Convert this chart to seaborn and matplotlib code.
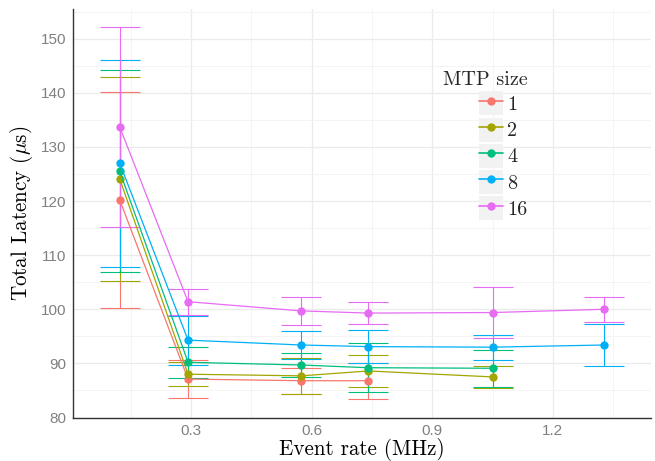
import numpy as np
import pandas as pd
import matplotlib
matplotlib.use("Agg")
import matplotlib.pyplot as plt
import seaborn as sns
from matplotlib.legend_handler import HandlerLine2D
from matplotlib.patches import Rectangle
from matplotlib.lines import Line2D
from matplotlib.ticker import MultipleLocator

# ---- data ----
event_rate = [0.1225, 0.2925, 0.574, 0.741, 1.050, 1.327]
mtp_sizes = ["1", "2", "4", "8", "16"]
lat_1 = [120.2, 87.1, 86.8, 86.8]
err_1 = [20.0, 3.5, 2.4, 3.35]
lat_2 = [124.1, 88.0, 87.7, 88.6, 87.5]
err_2 = [18.8, 2.25, 3.35, 3.0, 2.0]
lat_4 = [125.5, 90.2, 89.7, 89.2, 89.1]
err_4 = [18.7, 2.85, 2.3, 4.55, 3.4]
lat_8 = [127.0, 94.3, 93.4, 93.1, 93.0, 93.4]
err_8 = [19.1, 4.55, 2.6, 3.0, 2.3, 3.9]
lat_16 = [133.7, 101.4, 99.7, 99.3, 99.4, 100.0]
err_16 = [18.55, 2.4, 2.55, 2.0, 4.65, 2.35]
colors = ["#F8766D", "#A3A500", "#00BF7D", "#00B0F6", "#E76BF3"]

series_lat = [lat_1, lat_2, lat_4, lat_8, lat_16]
series_err = [err_1, err_2, err_4, err_8, err_16]

rows = []
for size, lat, err in zip(mtp_sizes, series_lat, series_err):
    for x, y, e in zip(event_rate, lat, err):
        rows.append({"rate": x, "latency": y, "err": e, "MTP size": size})
df = pd.DataFrame(rows)

sns.set_theme(style="white")
plt.rcParams["mathtext.fontset"] = "cm"
plt.rcParams["font.family"] = ["Liberation Sans", "DejaVu Sans"]

fig = plt.figure(figsize=(6.55, 4.61), dpi=100)
ax = fig.add_axes([73 / 655, 1 - 417.5 / 461, (651 - 73) / 655, (417.5 - 9) / 461])

palette = dict(zip(mtp_sizes, colors))

# error bars
for size in mtp_sizes:
    d = df[df["MTP size"] == size]
    ax.errorbar(d["rate"], d["latency"], yerr=d["err"], fmt="none",
                ecolor=palette[size], elinewidth=0.8, capsize=14.4,
                capthick=0.8, zorder=2)

sns.lineplot(data=df, x="rate", y="latency", hue="MTP size",
             hue_order=mtp_sizes, palette=palette, marker="o",
             markersize=6, markeredgewidth=0, linewidth=0.9,
             errorbar=None, sort=True, legend=False, ax=ax, zorder=3)

ax.set_xlim(0.0063, 1.444)
ax.set_ylim(80, 155.5)
ax.xaxis.set_major_locator(MultipleLocator(0.3))
ax.xaxis.set_minor_locator(MultipleLocator(0.15))
ax.yaxis.set_major_locator(MultipleLocator(10))
ax.yaxis.set_minor_locator(MultipleLocator(5))
ax.set_xticks([0.3, 0.6, 0.9, 1.2])
ax.set_xticklabels(["0.3", "0.6", "0.9", "1.2"])

ax.grid(which="major", color="#ebebeb", linewidth=0.9)
ax.grid(which="minor", color="#f3f3f3", linewidth=0.6)
ax.set_axisbelow(True)

for s in ["top", "right"]:
    ax.spines[s].set_visible(False)
for s in ["left", "bottom"]:
    ax.spines[s].set_color("#333333")
    ax.spines[s].set_linewidth(1.0)

ax.tick_params(axis="both", which="major", length=3.5, width=0.6,
               color="#999999", labelcolor="#808080", labelsize=11, pad=1.5)
ax.tick_params(axis="both", which="minor", length=0)

ax.set_xlabel("Event rate (MHz)", fontfamily="cmr10", fontsize=15.2,
              color="black", labelpad=0)
ax.set_ylabel(r"Total Latency ($\mu$s)", fontfamily="cmr10", fontsize=15.2,
              color="black", labelpad=4)


class KeyHandler(HandlerLine2D):
    def create_artists(self, legend, orig_handle, xdescent, ydescent,
                       width, height, fontsize, trans):
        rect = Rectangle((-xdescent, -ydescent), width, height,
                         facecolor="#f2f2f2", edgecolor="none",
                         transform=trans)
        arts = super().create_artists(legend, orig_handle, xdescent,
                                      ydescent, width, height, fontsize, trans)
        return [rect] + arts


handles = [Line2D([], [], color=c, marker="o", markersize=6,
                  markeredgewidth=0, linewidth=1.2) for c in colors]
leg = ax.legend(handles, mtp_sizes, title="MTP size",
                handler_map={Line2D: KeyHandler()}, frameon=False,
                loc="upper left", bbox_to_anchor=(443 / 655, 1 - 71 / 461),
                bbox_transform=fig.transFigure, numpoints=1,
                handlelength=1.19, handleheight=1.456, handletextpad=0.22,
                labelspacing=0.114, borderpad=0, borderaxespad=0,
                alignment="right",
                prop={"family": "cmr10", "size": 14.5},
                title_fontproperties={"family": "cmr10", "size": 14.5})

fig.savefig("out.png", dpi=100)
